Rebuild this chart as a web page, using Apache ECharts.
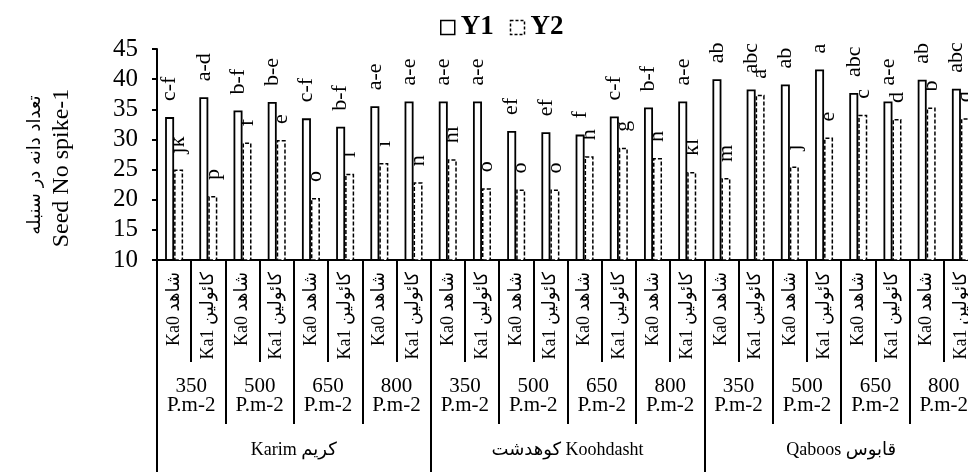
<!DOCTYPE html>
<html>
<head>
<meta charset="utf-8">
<script src="https://cdn.jsdelivr.net/npm/echarts@6/dist/echarts.min.js"></script>
<style>
  html, body { margin: 0; padding: 0; background: #fff; }
  #chart { width: 968px; height: 472px; }
</style>
</head>
<body>
<div id="chart"></div>
<script>
// Seed number per spike for three cultivars, four plant densities and two kaolin levels
const kaoLevels = ['Ka0 شاهد', 'Ka1 کائولین'];
const densities = ['350\nP.m-2', '500\nP.m-2', '650\nP.m-2', '800\nP.m-2'];
const cultivars = ['Karim کریم', 'کوهدشت Koohdasht', 'Qaboos قابوس'];

// Y1 and Y2 means, in the order cultivar > density > kaolin level
const y1Values = [33.7, 37.0, 34.8, 36.2, 33.5, 32.1, 35.5, 36.3,
                  36.3, 36.3, 31.4, 31.2, 30.8, 33.8, 35.3, 36.3,
                  40.0, 38.3, 39.1, 41.6, 37.7, 36.3, 39.9, 38.4];
const y2Values = [25.0, 20.6, 29.5, 29.9, 20.3, 24.3, 26.1, 22.9,
                  26.7, 21.9, 21.7, 21.7, 27.2, 28.6, 26.9, 24.6,
                  23.6, 37.4, 25.5, 30.3, 34.1, 33.4, 35.3, 33.5];

// Mean-separation letters
const y1Letters = ['c-f', 'a-d', 'b-f', 'b-e', 'c-f', 'b-f', 'a-e', 'a-e',
                   'a-e', 'a-e', 'ef', 'ef', 'f', 'c-f', 'b-f', 'a-e',
                   'ab', 'abc', 'ab', 'a', 'abc', 'a-e', 'ab', 'abc'];
const y2Letters = ['jk', 'p', 'f', 'e', 'o', 'l', 'i', 'n',
                   'hi', 'o', 'o', 'o', 'h', 'g', 'h', 'kl',
                   'm', 'a', 'j', 'e', 'c', 'd', 'b', 'd'];

const yTicks = { min: 10, max: 45, interval: 5 };

// Category lists for the three label rows
const treatmentCats = [];
const densityCats = [];
cultivars.forEach(() => {
  densities.forEach(d => {
    densityCats.push(d);
    kaoLevels.forEach(k => treatmentCats.push(k));
  });
});

const FONT = '"Times New Roman", "Liberation Serif", "DejaVu Sans", serif';

const chart = echarts.init(document.getElementById('chart'), null, { renderer: 'canvas' });

const barLabel = (letters) => ({
  show: true,
  position: 'top',
  rotate: 90,
  align: 'left',
  verticalAlign: 'middle',
  distance: 16,
  color: '#000',
  fontFamily: FONT,
  fontSize: 22,
  formatter: p => letters[p.dataIndex]
});

const rowAxis = (data, tickLen, label) => ({
  type: 'category',
  gridIndex: 0,
  position: 'bottom',
  data: data,
  axisLine: { show: false },
  axisTick: { show: true, interval: 0, length: tickLen, lineStyle: { color: '#000', width: 2 } },
  axisLabel: Object.assign({ interval: 0, color: '#000', fontFamily: FONT }, label),
  splitLine: { show: false }
});

chart.setOption({
  animation: false,
  backgroundColor: '#fff',
  legend: {
    top: 9,
    left: 435,
    itemWidth: 14,
    itemHeight: 14,
    itemGap: 16,
    textStyle: { fontFamily: FONT, fontSize: 27, fontWeight: 'bold', color: '#000', padding: [0, 0, 0, 1] },
    data: [
      { name: 'Y1', icon: 'rect', itemStyle: { color: '#fff', borderColor: '#000', borderWidth: 1.5, borderType: 'solid' } },
      { name: 'Y2', icon: 'rect', itemStyle: { color: '#fff', borderColor: '#000', borderWidth: 1.5, borderType: [3, 2] } }
    ]
  },
  // plot area runs a little past the right edge of the page
  grid: { left: 157, top: 49, width: 821, height: 211, containLabel: false, outerBoundsMode: 'none' },
  xAxis: [
    {
      type: 'category',
      data: treatmentCats,
      axisLine: { show: true, lineStyle: { color: '#000', width: 2 } },
      axisTick: { show: true, interval: 0, length: 102, lineStyle: { color: '#000', width: 2 } },
      axisLabel: {
        interval: 0, rotate: 90, margin: 12, color: '#000',
        fontFamily: FONT, fontSize: 18
      },
      splitLine: { show: false }
    },
    rowAxis(densityCats, 164, { margin: 117, fontSize: 21, lineHeight: 19 }),
    rowAxis(cultivars, 230, { margin: 181, fontSize: 18 })
  ],
  yAxis: {
    type: 'value',
    min: yTicks.min,
    max: yTicks.max,
    interval: yTicks.interval,
    axisLine: { show: true, lineStyle: { color: '#000', width: 2 } },
    axisTick: { show: true, length: 5, lineStyle: { color: '#000', width: 2 } },
    axisLabel: { margin: 19, color: '#000', fontFamily: FONT, fontSize: 25 },
    splitLine: { show: false }
  },
  series: [
    {
      name: 'Y1',
      type: 'bar',
      xAxisIndex: 0,
      z: 3,
      barWidth: 9,
      barGap: '0%',
      data: y1Values,
      itemStyle: { color: '#fff', borderColor: '#000', borderWidth: 1.8 },
      label: barLabel(y1Letters)
    },
    {
      name: 'Y2',
      type: 'bar',
      xAxisIndex: 0,
      z: 2,
      barWidth: 9,
      barGap: '0%',
      data: y2Values,
      itemStyle: { color: '#fff', borderColor: '#000', borderWidth: 1.5, borderType: [4, 2] },
      label: barLabel(y2Letters)
    }
  ],
  graphic: [
    {
      type: 'text', x: 35, y: 165, rotation: Math.PI / 2,
      style: { text: 'تعداد دانه در سنبله', fill: '#000', font: '18px "DejaVu Sans", sans-serif', textAlign: 'center', textVerticalAlign: 'middle' }
    },
    {
      type: 'text', x: 62, y: 168, rotation: Math.PI / 2,
      style: { text: 'Seed No spike-1', fill: '#000', font: '24px "Times New Roman", "Liberation Serif", serif', textAlign: 'center', textVerticalAlign: 'middle' }
    }
  ]
});
</script>
</body>
</html>
